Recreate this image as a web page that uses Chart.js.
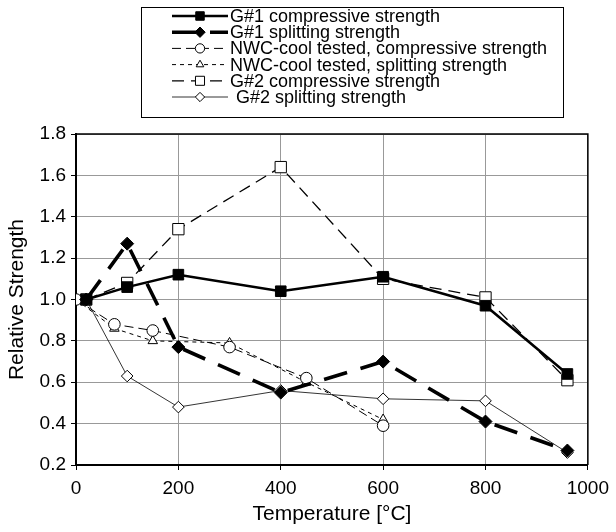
<!DOCTYPE html>
<html>
<head>
<meta charset="utf-8">
<script src="https://cdn.jsdelivr.net/npm/chart.js@4/dist/chart.umd.min.js"></script>
<style>
  html, body { margin: 0; padding: 0; background: #fff; }
  #wrap { width: 616px; height: 532px; }
</style>
</head>
<body>
<div id="wrap"><canvas id="strengthChart" width="616" height="532"></canvas></div>
<script>
// Temperatures (°C) and relative strengths for each test series
const tempG = [20, 100, 200, 400, 600, 800, 960];
const tempNWC = [0, 75, 150, 300, 450, 600];

const g1Compressive = [1.0, 1.06, 1.12, 1.04, 1.11, 0.97, 0.64];
const g1Splitting = [1.0, 1.27, 0.77, 0.55, 0.70, 0.41, 0.27];
const nwcCompressive = [1.0, 0.88, 0.85, 0.77, 0.62, 0.39];
const nwcSplitting = [1.0, 0.86, 0.80, 0.79, 0.60, 0.42];
const g2Compressive = [1.0, 1.08, 1.34, 1.64, 1.10, 1.01, 0.61];
const g2Splitting = [1.0, 0.63, 0.48, 0.56, 0.52, 0.51, 0.26];

const seriesNames = [
    'G#1 compressive strength',
    'G#1 splitting strength',
    'NWC-cool tested, compressive strength',
    'NWC-cool tested, splitting strength',
    'G#2 compressive strength',
    'G#2 splitting strength'
];

const xTicks = [0, 200, 400, 600, 800, 1000];
const yTicks = [0.2, 0.4, 0.6, 0.8, 1.0, 1.2, 1.4, 1.6, 1.8];

const FONT = "'Liberation Sans', Arial, sans-serif";

function pts(xs, ys) {
    return xs.map((x, i) => ({ x: x, y: ys[i] }));
}

function series(label, xs, ys, style) {
    return Object.assign({
        label: label,
        data: pts(xs, ys),
        borderColor: '#000',
        pointBorderColor: '#000',
        pointBackgroundColor: '#fff',
        pointBorderWidth: 1,
        fill: false,
        tension: 0
    }, style);
}

const datasets = [
    series(seriesNames[0], tempG, g1Compressive, {
        borderWidth: 2.5, pointStyle: 'rect', pointRadius: 7.5, pointBackgroundColor: '#000'
    }),
    series(seriesNames[1], tempG, g1Splitting, {
        borderWidth: 3.6, borderDash: [24, 14], pointStyle: 'rectRot', pointRadius: 6.5, pointBackgroundColor: '#000'
    }),
    series(seriesNames[2], tempNWC, nwcCompressive, {
        borderWidth: 1, borderDash: [9, 5], pointStyle: 'circle', pointRadius: 5.8
    }),
    series(seriesNames[3], tempNWC, nwcSplitting, {
        borderWidth: 1, borderDash: [4, 4], pointStyle: 'triangle', pointRadius: 5.5
    }),
    series(seriesNames[4], tempG, g2Compressive, {
        borderWidth: 1.3, borderDash: [12, 7], pointStyle: 'rect', pointRadius: 8
    }),
    series(seriesNames[5], tempG, g2Splitting, {
        borderWidth: 0.8, pointStyle: 'rectRot', pointRadius: 5.8
    })
];

// Boxed legend above the plot, each entry with its line and marker sample
const boxLegend = {
    id: 'boxLegend',
    afterDraw(chart) {
        const ctx = chart.ctx;
        ctx.save();
        ctx.strokeStyle = '#000';
        ctx.lineWidth = 1;
        ctx.strokeRect(141.5, 7.5, 422, 110);
        ctx.font = '18px ' + FONT;
        ctx.textBaseline = 'middle';
        ctx.fillStyle = '#000';
        chart.data.datasets.forEach((ds, i) => {
            const y = 16 + i * 16.2;
            ctx.save();
            ctx.strokeStyle = ds.borderColor;
            ctx.lineWidth = ds.borderWidth;
            ctx.setLineDash(ds.borderDash || []);
            ctx.beginPath();
            ctx.moveTo(172, y);
            ctx.lineTo(228, y);
            ctx.stroke();
            ctx.setLineDash([]);
            ctx.fillStyle = ds.pointBackgroundColor;
            ctx.strokeStyle = ds.pointBorderColor;
            ctx.lineWidth = 1;
            Chart.helpers.drawPoint(ctx, {
                pointStyle: ds.pointStyle,
                radius: ds.pointRadius * 0.8,
                rotation: 0,
                borderWidth: 1
            }, 200, y);
            ctx.restore();
            ctx.fillText(ds.label, i === 5 ? 236 : 230, y + 1);
        });
        ctx.restore();
    }
};

// Thin frame on the top and right of the plot area
const plotFrame = {
    id: 'plotFrame',
    beforeDatasetsDraw(chart) {
        const a = chart.chartArea;
        const ctx = chart.ctx;
        ctx.save();
        ctx.strokeStyle = '#000';
        ctx.lineWidth = 1.5;
        ctx.beginPath();
        ctx.moveTo(a.left, a.top);
        ctx.lineTo(a.right, a.top);
        ctx.lineTo(a.right, a.bottom);
        ctx.stroke();
        ctx.restore();
    }
};

new Chart(document.getElementById('strengthChart').getContext('2d'), {
    type: 'line',
    data: { datasets: datasets },
    plugins: [boxLegend, plotFrame],
    options: {
        responsive: false,
        animation: false,
        layout: { padding: { top: 134, right: 26, bottom: 0, left: 0 } },
        plugins: {
            legend: { display: false },
            tooltip: { enabled: false }
        },
        scales: {
            x: {
                type: 'linear',
                min: 0,
                max: 1000,
                afterBuildTicks: (s) => { s.ticks = xTicks.map(v => ({ value: v })); },
                afterFit: (s) => { s.height = 67; },
                grid: { color: '#999', lineWidth: 1, tickLength: 5, tickColor: '#000' },
                border: { color: '#000', width: 2 },
                ticks: {
                    color: '#000',
                    font: { family: FONT, size: 19 },
                    padding: 7,
                    maxRotation: 0,
                    callback: (v) => String(v)
                },
                title: {
                    display: true,
                    text: 'Temperature [°C]',
                    color: '#000',
                    font: { family: FONT, size: 21 },
                    padding: { top: 0, bottom: 5 }
                }
            },
            y: {
                min: 0.2,
                max: 1.8,
                afterBuildTicks: (s) => { s.ticks = yTicks.map(v => ({ value: v })); },
                afterFit: (s) => { s.width = 76; },
                grid: { color: '#999', lineWidth: 1, tickLength: 5, tickColor: '#000' },
                border: { color: '#000', width: 2 },
                ticks: {
                    color: '#000',
                    font: { family: FONT, size: 19 },
                    padding: 5,
                    callback: (v) => v.toFixed(1)
                },
                title: {
                    display: true,
                    text: 'Relative Strength',
                    color: '#000',
                    font: { family: FONT, size: 21 },
                    padding: { top: 5, bottom: 0 }
                }
            }
        }
    }
});
</script>
</body>
</html>
